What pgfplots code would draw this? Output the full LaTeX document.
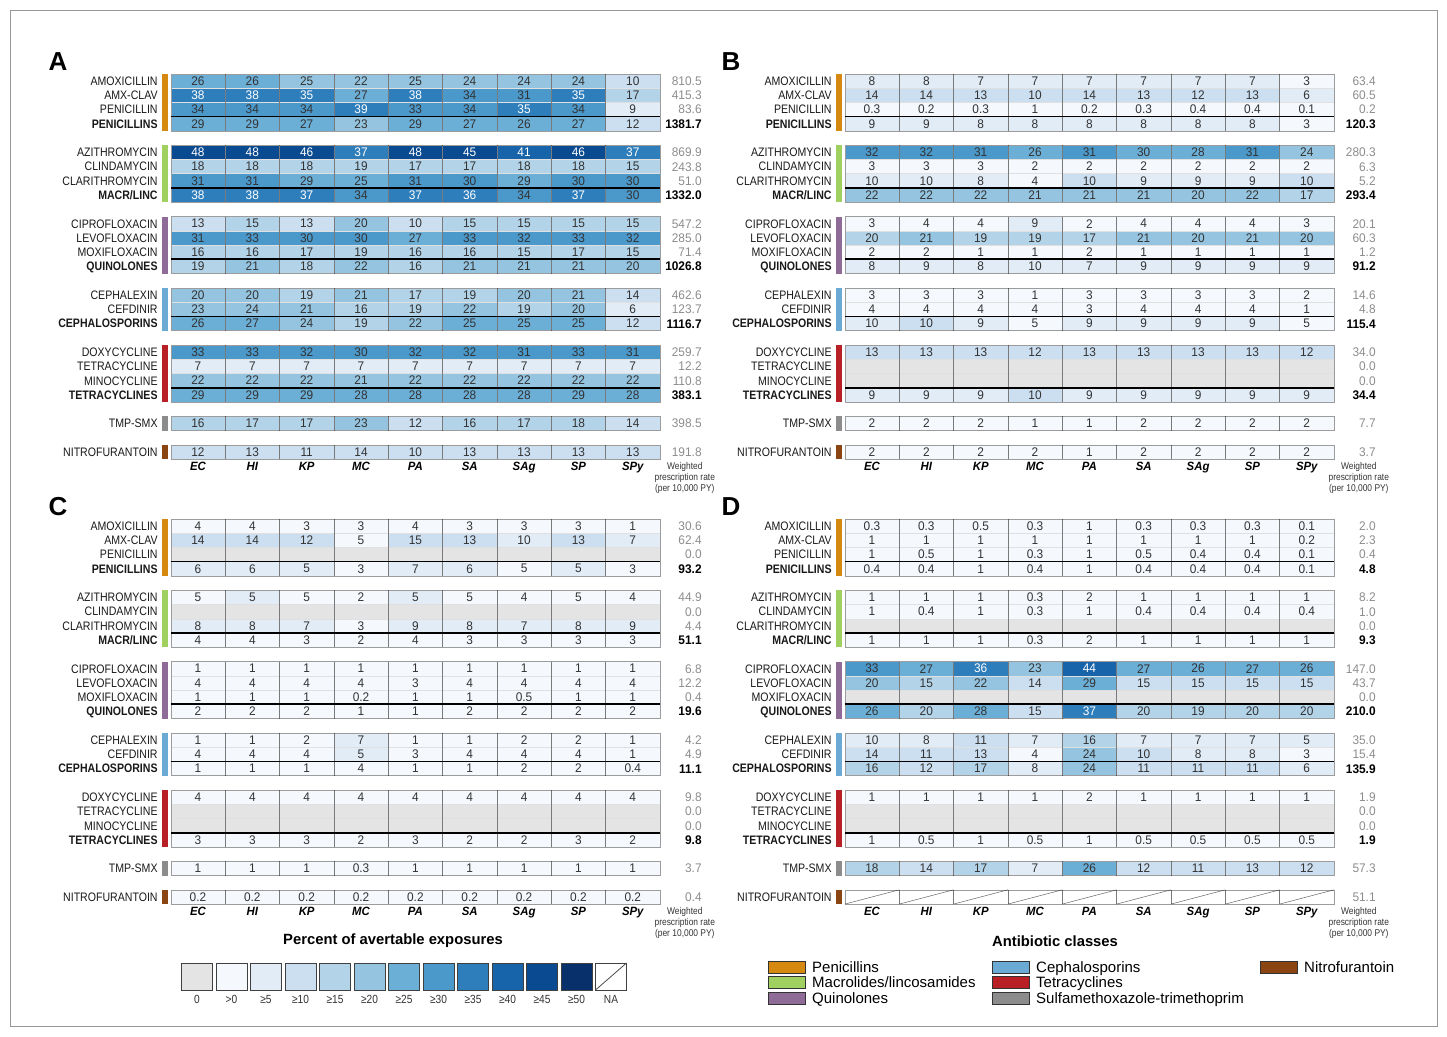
\documentclass[border=0pt]{standalone}
\usepackage{pgfplots}
\pgfplotsset{compat=1.18}
\usepackage{pgfplotstable}
\usepackage{fontspec}
\setmainfont{Liberation Sans}
\newfontfamily\nar[FakeStretch=0.86]{Liberation Sans}
\newfontfamily\narn[FakeStretch=0.95]{Liberation Sans}
\pgfkeys{/pgf/number format/assume math mode=true}

\definecolor{b0}{HTML}{E4E4E4}
\definecolor{b1}{HTML}{F5F9FE}
\definecolor{b2}{HTML}{E1ECF7}
\definecolor{b3}{HTML}{CCDFF1}
\definecolor{b4}{HTML}{B3D3E8}
\definecolor{b5}{HTML}{94C4DF}
\definecolor{b6}{HTML}{6BAED6}
\definecolor{b7}{HTML}{4B98CA}
\definecolor{b8}{HTML}{2F7EBC}
\definecolor{b9}{HTML}{1764AB}
\definecolor{b10}{HTML}{0A4A90}
\definecolor{b11}{HTML}{08306B}
\definecolor{tdark}{HTML}{333333}
\definecolor{rgray}{HTML}{8C8C8C}
\definecolor{cPen}{HTML}{D68910}
\definecolor{cMac}{HTML}{A0D060}
\definecolor{cQui}{HTML}{8E6C97}
\definecolor{cCep}{HTML}{6BAAD4}
\definecolor{cTet}{HTML}{B82025}
\definecolor{cTmp}{HTML}{8C8C8C}
\definecolor{cNit}{HTML}{8B4513}

\newcommand\cw{54.35}
\newcommand\rh{14.27}

\newcommand\lblfont{\nar\fontsize{12.3}{14}\selectfont}
\newcommand\numfont{\narn\fontsize{12.5}{14}\selectfont}
\newcommand\colfont{\narn\fontsize{12}{14}\selectfont\bfseries\itshape}
\newcommand\wfont{\nar\fontsize{9.8}{10.9}\selectfont}
\newcommand\legfont{\fontsize{15}{15}\selectfont}
\newcommand\binfont{\nar\fontsize{11.8}{12}\selectfont}

\newdimen\vd
\newcommand\cellcol{%
  \def\cellc{white}%
  \ifdim\vd>-0.5pt \def\cellc{b0}\fi
  \ifdim\vd>0pt \def\cellc{b1}\fi
  \ifdim\vd<5pt\else\def\cellc{b2}\fi
  \ifdim\vd<10pt\else\def\cellc{b3}\fi
  \ifdim\vd<15pt\else\def\cellc{b4}\fi
  \ifdim\vd<20pt\else\def\cellc{b5}\fi
  \ifdim\vd<25pt\else\def\cellc{b6}\fi
  \ifdim\vd<30pt\else\def\cellc{b7}\fi
  \ifdim\vd<35pt\else\def\cellc{b8}\fi
  \ifdim\vd<40pt\else\def\cellc{b9}\fi
  \ifdim\vd<45pt\else\def\cellc{b10}\fi
  \ifdim\vd<50pt\else\def\cellc{b11}\fi}

\newcommand\lbl{%
  \ifdim\vd>0pt
    \ifdim\vd<35pt\color{tdark}\else\color{white}\fi
    \numfont
    \ifdim\vd<0.95pt\pgfmathprintnumber[fixed,fixed zerofill,precision=1]{\cvn}%
    \else\pgfmathprintnumber[fixed,precision=0]{\cvn}\fi
  \fi}

\pgfdeclareplotmark{cellm}{%
  \ifdefined\cv\pgfmathsetmacro\cvn{\cv}\else\def\cvn{0}\fi
  \vd=\cvn pt\relax
  \cellcol
  \pgfsetfillcolor{\cellc}%
  \pgfsetstrokecolor{black!12}%
  \pgfsetlinewidth{0.4pt}%
  \pgfpathrectangle{\pgfpoint{-27.175pt}{-7.135pt}}{\pgfpoint{54.35pt}{14.27pt}}%
  \pgfusepath{fill,stroke}%
  \ifdim\vd<0pt
    \pgfsetstrokecolor{black!60}\pgfsetlinewidth{0.5pt}%
    \pgfpathmoveto{\pgfpoint{-27.175pt}{-7.135pt}}%
    \pgfpathlineto{\pgfpoint{27.175pt}{7.135pt}}%
    \pgfusepath{stroke}%
  \fi
  \pgftext{{\lbl}}}

\pgfplotsset{
  cellplot/.style={only marks, scatter, mark=cellm, point meta=0,
    scatter/@pre marker code/.code={\pgfscope},
    scatter/@post marker code/.code={\endpgfscope}},
  cellaxis/.style={anchor=north west, x=54.35pt, y=14.27pt,
    xmin=-0.5, xmax=8.5, ymin=-26.5, ymax=0.5, hide axis, clip=false,
    point meta min=0, point meta max=1}}

\newcommand\colplot[2]{\addplot[cellplot, visualization depends on={\thisrow{c#2}\as\cv}] table[x expr=#2, y expr=-\thisrow{r}] {#1};}
\newcommand\allcols[1]{\colplot{#1}{0}\colplot{#1}{1}\colplot{#1}{2}\colplot{#1}{3}\colplot{#1}{4}\colplot{#1}{5}\colplot{#1}{6}\colplot{#1}{7}\colplot{#1}{8}}

\newcommand\group[4]{%
  \pgfmathsetmacro\gt{#1*\rh}%
  \pgfmathsetmacro\gb{(#1+#2)*\rh}%
  \foreach \k in {1,...,8}{\draw[draw=black, draw opacity=0.45, line width=0.7pt] ({\k*\cw},\gt) -- ({\k*\cw},\gb);}
  \draw[draw=black, draw opacity=0.3, line width=0.6pt] (0,\gt) rectangle ({9*\cw},\gb);
  \ifnum#4=1 \draw[draw=black, line width=1.7pt] (0,{\gb-\rh}) -- ({9*\cw},{\gb-\rh});\fi
  \fill[fill=#3] (-8.5,\gt) rectangle (-2.5,\gb);}

\newcommand\rowlabels{%
 \foreach \r/\n/\b in {0/AMOXICILLIN/0,1/AMX-CLAV/0,2/PENICILLIN/0,3/PENICILLINS/1,5/AZITHROMYCIN/0,6/CLINDAMYCIN/0,7/CLARITHROMYCIN/0,8/{MACR/LINC}/1,10/CIPROFLOXACIN/0,11/LEVOFLOXACIN/0,12/MOXIFLOXACIN/0,13/QUINOLONES/1,15/CEPHALEXIN/0,16/CEFDINIR/0,17/CEPHALOSPORINS/1,19/DOXYCYCLINE/0,20/TETRACYCLINE/0,21/MINOCYCLINE/0,22/TETRACYCLINES/1,24/TMP-SMX/0,26/NITROFURANTOIN/0}{%
   \ifnum\b=1 \def\ff{\lblfont\bfseries}\else\def\ff{\lblfont}\fi
   \node[anchor=base east, inner sep=0pt, text=black!90, font=\ff] at (-13,{(\r+0.5)*\rh+4.4}) {\n};}}

\newcommand\panel[3]{%
  \begin{scope}[x=1pt,y=-1pt,shift={(#1,#2)}]
  \group{0}{4}{cPen}{1}\group{5}{4}{cMac}{1}\group{10}{4}{cQui}{1}\group{15}{3}{cCep}{1}\group{19}{4}{cTet}{1}\group{24}{1}{cTmp}{0}\group{26}{1}{cNit}{0}
  \rowlabels
  \foreach \i/\n in {0/EC,1/HI,2/KP,3/MC,4/PA,5/SA,6/SAg,7/SP,8/SPy}{\node[anchor=base, inner sep=0pt, font=\colfont] at ({(\i+0.5)*\cw},{27.5*\rh+4.3}) {\n};}
  \node[align=center, font=\wfont, text=tdark, inner sep=0pt] at (514,404.2) {Weighted\\prescription rate\\(per 10,000 PY)};
  \foreach \r/\v/\b in {#3}{%
    \ifnum\b=1 \def\ff{\numfont\bfseries}\def\tc{black}\else\def\ff{\numfont}\def\tc{rgray}\fi
    \node[anchor=base east, inner sep=0pt, font=\ff, text=\tc] at (531,{(\r+0.5)*\rh+4.5}) {\v};}
  \end{scope}}

\pgfplotstableread{
r c0 c1 c2 c3 c4 c5 c6 c7 c8
0 26 26 24.6 22 24.6 24 24 24 10
1 38 38 35 27 38 34 31 35 17
2 34 34 34 39 33 34 35 34 9
3 29 29 27 23 29 27 26 27 12
5 48 48 46 37 48 45 41 46 37
6 18 18 18 19 17 17 18 18 15
7 31 31 29 25 31 30 29 30 30
8 38 38 37 34 37 36 34 37 30
10 13 15 13 20 10 15 15 15 15
11 31 33 30 30 27 33 32 33 32
12 16 16 17 19 16 16 15 17 15
13 19 21 18 22 16 21 21 21 20
15 20 20 19 21 17 19 20 21 14
16 23 24 21 16 19 22 19 20 6
17 26 27 24 19 22 25 25 25 12
19 33 33 32 30 32 32 31 33 31
20 7 7 7 7 7 7 7 7 7
21 22 22 22 21 22 22 22 22 22
22 29 29 29 28 28 28 28 29 28
24 16 17 17 23 12 16 17 18 14
26 12 13 11 14 10 13 13 13 13
}\tabA

\pgfplotstableread{
r c0 c1 c2 c3 c4 c5 c6 c7 c8
0 8 8 7 7 7 7 7 7 3
1 14 14 13 10 14 13 12 13 6
2 0.3 0.2 0.3 1 0.2 0.3 0.4 0.4 0.1
3 9 9 8 8 8 8 8 8 3
5 32 32 31 26 31 29.8 28 31 24
6 3 3 3 2 2 2 2 2 2
7 9.6 9.6 8 4 10 9 9 9 10
8 22 22 22 21 21 21 20 22 17
10 3 4 4 9 2 4 4 4 3
11 19.8 21 19 19 17 21 20 21 20
12 2 2 1 1 2 1 1 1 1
13 8 9 8 9.6 7 9 9 9 9
15 3 3 3 1 3 3 3 3 2
16 4 4 4 4 3 4 4 4 1
17 9.6 10 9 4.8 9 9 9 9 4.8
19 13 13 13 12 13 13 13 13 12
20 0 0 0 0 0 0 0 0 0
21 0 0 0 0 0 0 0 0 0
22 9 9 9 10 9 9 9 9 9
24 2 2 2 1 1 2 2 2 2
26 2 2 2 2 1 2 2 2 2
}\tabB

\pgfplotstableread{
r c0 c1 c2 c3 c4 c5 c6 c7 c8
0 4 4 3 3 4 3 3 3 1
1 14 14 12 4.8 14.8 13 9.6 13 7
2 0 0 0 0 0 0 0 0 0
3 6 6 5 3 7 6 4.8 5 3
5 4.8 5 4.8 2 5 4.8 4 4.8 4
6 0 0 0 0 0 0 0 0 0
7 8 8 7 3 9 8 7 8 9
8 4 4 3 2 4 3 3 3 3
10 1 1 1 1 1 1 1 1 1
11 4 4 4 4 3 4 4 4 4
12 1 1 1 0.2 1 1 0.5 1 1
13 2 2 2 1 1 2 2 2 2
15 1 1 2 7 1 1 2 2 1
16 4 4 4 5 3 4 4 4 1
17 1 1 1 4 1 1 2 2 0.4
19 4 4 4 4 4 4 4 4 4
20 0 0 0 0 0 0 0 0 0
21 0 0 0 0 0 0 0 0 0
22 3 3 3 2 3 2 2 3 2
24 1 1 1 0.3 1 1 1 1 1
26 0.2 0.2 0.2 0.2 0.2 0.2 0.2 0.2 0.2
}\tabC

\pgfplotstableread{
r c0 c1 c2 c3 c4 c5 c6 c7 c8
0 0.3 0.3 0.5 0.3 1 0.3 0.3 0.3 0.1
1 1 1 1 1 1 1 1 1 0.2
2 1 0.5 1 0.3 1 0.5 0.4 0.4 0.1
3 0.4 0.4 1 0.4 1 0.4 0.4 0.4 0.1
5 1 1 1 0.3 2 1 1 1 1
6 1 0.4 1 0.3 1 0.4 0.4 0.4 0.4
7 0 0 0 0 0 0 0 0 0
8 1 1 1 0.3 2 1 1 1 1
10 33 27 36 23 44 27 26 27 26
11 20 15 22 14 29 14.8 14.8 14.8 14.8
12 0 0 0 0 0 0 0 0 0
13 26 19.8 28 14.8 37 19.8 19 19.8 19.8
15 9.6 8 11 7 16 7 7 7 5
16 14 11 13 4 24 10 8 8 3
17 16 12 17 8 24 11 11 11 6
19 1 1 1 1 2 1 1 1 1
20 0 0 0 0 0 0 0 0 0
21 0 0 0 0 0 0 0 0 0
22 1 0.5 1 0.5 1 0.5 0.5 0.5 0.5
24 18 14 17 7 26 12 11 13 12
26 -1 -1 -1 -1 -1 -1 -1 -1 -1
}\tabD

\begin{document}
\begin{tikzpicture}
\useasboundingbox (0pt,0pt) rectangle (1447pt,-1036pt);
\draw[black!40, line width=0.8pt] (10pt,-10pt) rectangle (1437pt,-1026pt);

\begin{axis}[cellaxis, at={(170.8pt,-73.8pt)}] \allcols{\tabA} \end{axis}
\begin{axis}[cellaxis, at={(844.8pt,-73.8pt)}] \allcols{\tabB} \end{axis}
\begin{axis}[cellaxis, at={(170.8pt,-518.8pt)}] \allcols{\tabC} \end{axis}
\begin{axis}[cellaxis, at={(844.8pt,-518.8pt)}] \allcols{\tabD} \end{axis}

\panel{170.8}{73.8}{0/810.5/0,1/415.3/0,2/83.6/0,3/1381.7/1,5/869.9/0,6/243.8/0,7/51.0/0,8/1332.0/1,10/547.2/0,11/285.0/0,12/71.4/0,13/1026.8/1,15/462.6/0,16/123.7/0,17/1116.7/1,19/259.7/0,20/12.2/0,21/110.8/0,22/383.1/1,24/398.5/0,26/191.8/0}
\panel{844.8}{73.8}{0/63.4/0,1/60.5/0,2/0.2/0,3/120.3/1,5/280.3/0,6/6.3/0,7/5.2/0,8/293.4/1,10/20.1/0,11/60.3/0,12/1.2/0,13/91.2/1,15/14.6/0,16/4.8/0,17/115.4/1,19/34.0/0,20/0.0/0,21/0.0/0,22/34.4/1,24/7.7/0,26/3.7/0}
\panel{170.8}{518.8}{0/30.6/0,1/62.4/0,2/0.0/0,3/93.2/1,5/44.9/0,6/0.0/0,7/4.4/0,8/51.1/1,10/6.8/0,11/12.2/0,12/0.4/0,13/19.6/1,15/4.2/0,16/4.9/0,17/11.1/1,19/9.8/0,20/0.0/0,21/0.0/0,22/9.8/1,24/3.7/0,26/0.4/0}
\panel{844.8}{518.8}{0/2.0/0,1/2.3/0,2/0.4/0,3/4.8/1,5/8.2/0,6/1.0/0,7/0.0/0,8/9.3/1,10/147.0/0,11/43.7/0,12/0.0/0,13/210.0/1,15/35.0/0,16/15.4/0,17/135.9/1,19/1.9/0,20/0.0/0,21/0.0/0,22/1.9/1,24/57.3/0,26/51.1/0}

\begin{scope}[x=1pt,y=-1pt]
  \foreach \x/\y/\t in {58/62/A,731/62/B,58/507/C,731/507/D}{\node[font=\fontsize{26}{26}\selectfont\bfseries] at (\x,\y) {\t};}
  \node[font=\fontsize{14.8}{15}\selectfont\bfseries] at (393,941) {Percent of avertable exposures};
  \node[font=\fontsize{14.8}{15}\selectfont\bfseries] at (1055,941) {Antibiotic classes};
  \foreach \k/\c/\t in {0/b0/0,1/b1/{>0},2/b2/{≥5},3/b3/{≥10},4/b4/{≥15},5/b5/{≥20},6/b6/{≥25},7/b7/{≥30},8/b8/{≥35},9/b9/{≥40},10/b10/{≥45},11/b11/{≥50},12/white/NA}{%
    \pgfmathsetmacro\xc{197+34.5*\k}
    \filldraw[fill=\c, draw=black!75, line width=0.8pt] (\xc-15.5,963) rectangle (\xc+15.5,990);
    \node[font=\binfont, text=tdark] at (\xc,999.5) {\t};}
  \draw[black!70, line width=0.8pt] (611-15.5,990) -- (611+15.5,963);
  \foreach \x/\y/\c/\t in {768/967/cPen/Penicillins,768/982.5/cMac/{Macrolides/lincosamides},768/998/cQui/Quinolones,992/967/cCep/Cephalosporins,992/982.5/cTet/Tetracyclines,992/998/cTmp/Sulfamethoxazole-trimethoprim,1260/967/cNit/Nitrofurantoin}{%
    \filldraw[fill=\c, draw=black!80, line width=0.8pt] (\x,\y-6) rectangle (\x+37,\y+6);
    \node[anchor=base west, font=\legfont, inner sep=0pt] at (\x+44,\y+5.4) {\t};}
\end{scope}
\end{tikzpicture}
\end{document}
